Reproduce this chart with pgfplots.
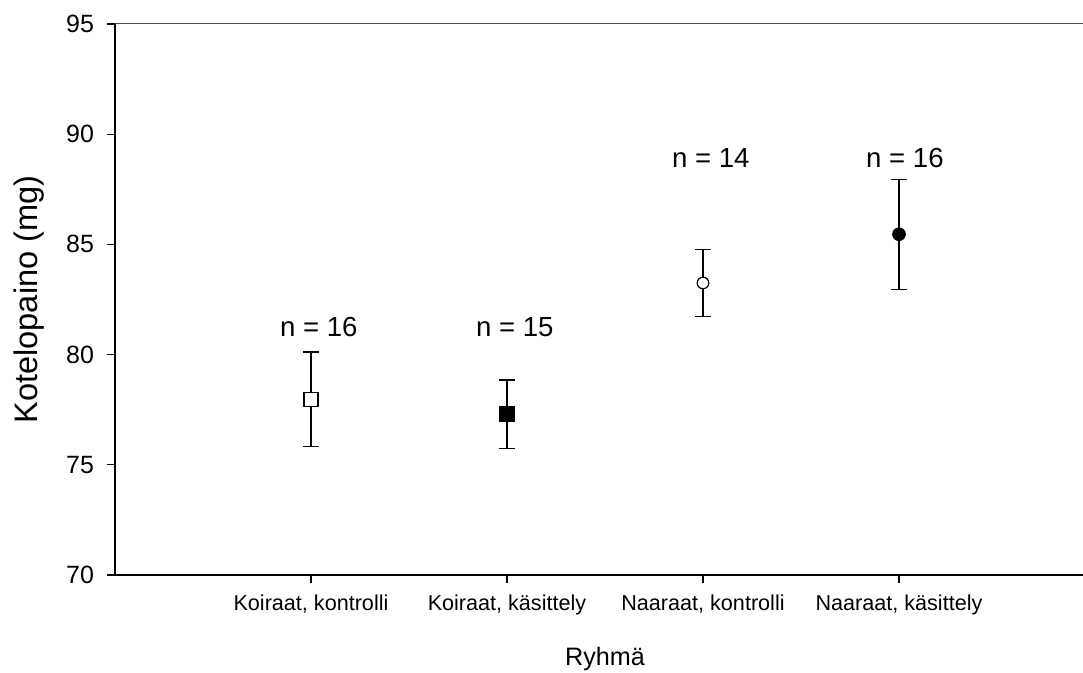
\documentclass[border=0pt]{standalone}
\usepackage{fontspec}
\setmainfont{Liberation Sans}
\usepackage{pgfplots}
\pgfplotsset{compat=1.18}
\begin{document}
\begin{tikzpicture}[x=1pt,y=1pt]
\useasboundingbox (0,0) rectangle (541.5,336.5);
\begin{axis}[
  at={(57.5pt,49pt)}, anchor=south west,
  scale only axis, width=490pt, height=275.5pt,
  xmin=-1, xmax=4, ymin=70, ymax=95,
  axis x line*=bottom, axis y line*=left,
  axis line style={-, line width=1pt, black},
  xtick={0,1,2,3},
  xticklabels={{Koiraat, kontrolli},{Koiraat, käsittely},{Naaraat, kontrolli},{Naaraat, käsittely}},
  ytick={70,75,80,85,90,95},
  yticklabel={\fontsize{12.5}{14}\selectfont\pgfmathprintnumber{\tick}},
  tick align=outside, major tick length=4pt,
  tick style={line width=0.6pt, black},
  x tick label style={font=\fontsize{10.8}{12}\selectfont, yshift=-2.5pt},
  y tick label style={xshift=-3pt},
  /pgf/number format/assume math mode=true,
  xlabel={Ryhmä}, ylabel={Kotelopaino (mg)},
  xlabel style={font=\fontsize{12.6}{14}\selectfont, at={(axis description cs:0.5,-0.1525)}, anchor=center},
  ylabel style={font=\fontsize{16.3}{18}\selectfont, at={(axis description cs:-0.0878,0.5)}, anchor=center},
  clip=false,
]
\draw[line width=0.5pt, black!70] (rel axis cs:0,1) -- (rel axis cs:1,1);
% error bars
\addplot[only marks, mark=none, forget plot,
  error bars/.cd, y dir=both, y explicit,
  error bar style={line width=0.6pt, black},
  error mark options={rotate=90, mark size=4pt, line width=0.6pt, black}]
  table[x=x, y=y, y error=e] {
x y e
0 77.97 2.15
1 77.30 1.55
2 83.25 1.52
3 85.46 2.50
};
\addplot[only marks, mark=square*, mark size=3.5pt, mark options={fill=white, draw=black, line width=0.6pt}]
  table[x=x, y=y] {
x y
0 77.97
};
\addplot[only marks, mark=square*, mark size=3.75pt, mark options={fill=black, draw=black}]
  table[x=x, y=y] {
x y
1 77.30
};
\addplot[only marks, mark=*, mark size=2.9pt, mark options={fill=white, draw=black, line width=0.6pt}]
  table[x=x, y=y] {
x y
2 83.25
};
\addplot[only marks, mark=*, mark size=3.2pt, mark options={fill=black, draw=black}]
  table[x=x, y=y] {
x y
3 85.46
};
\node[font=\fontsize{13.8}{16}\selectfont] at (axis cs:0.04,81.25) {n = 16};
\node[font=\fontsize{13.8}{16}\selectfont] at (axis cs:1.04,81.25) {n = 15};
\node[font=\fontsize{13.8}{16}\selectfont] at (axis cs:2.04,88.9) {n = 14};
\node[font=\fontsize{13.8}{16}\selectfont] at (axis cs:3.03,88.9) {n = 16};
\end{axis}
\end{tikzpicture}
\end{document}
